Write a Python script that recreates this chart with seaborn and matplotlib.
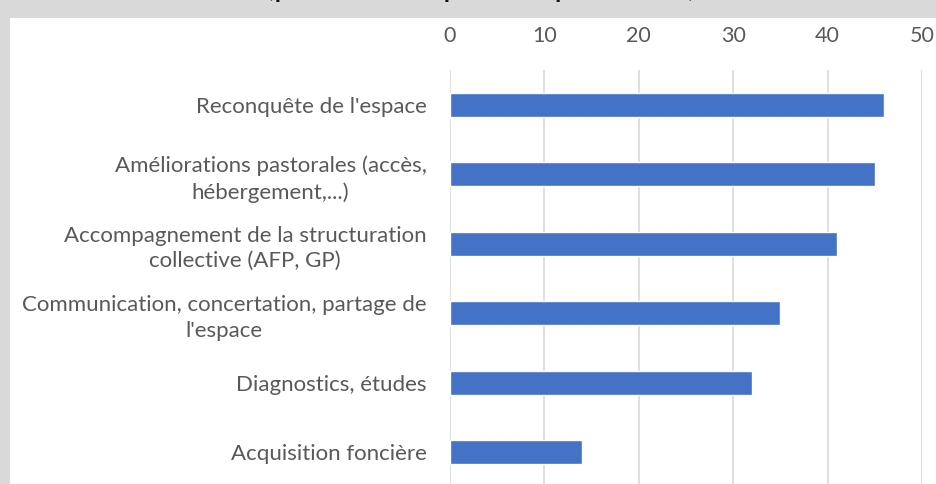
import numpy as np
import pandas as pd
import matplotlib.pyplot as plt
from matplotlib.patches import Rectangle
import seaborn as sns

## data
categories = ["Reconquête de l'espace",
              "Améliorations pastorales (accès,\nhébergement,...)",
              "Accompagnement de la structuration\ncollective (AFP, GP)",
              "Communication, concertation, partage de\nl'espace",
              "Diagnostics, études",
              "Acquisition foncière"]
values = [46, 45, 41, 35, 32, 14]
xticks = [0, 10, 20, 30, 40, 50]

df = pd.DataFrame({"action": categories, "n": values})

sns.set_theme(style="white")
plt.rcParams['font.family'] = ['Lato', 'DejaVu Sans']

W, H = 937, 484
fig = plt.figure(figsize=(W / 100, H / 100), dpi=100)
fig.patch.set_facecolor("#d9d9d9")
## white chart panel inside the grey frame
fig.patches.append(Rectangle((10 / W, 0), 1, 1 - 18 / H, transform=fig.transFigure,
                             facecolor="white", edgecolor="none", zorder=-5))

## title, cut off at the top of the image (only descenders show)
fig.text(481 / W, 1 + 4 / H, "(plusieurs réponses possibles)", ha="center",
         va="baseline", fontsize=24, color="#111111")

ax = fig.add_axes([450 / W, 1 - 487 / H, 472 / W, 417 / H])
ax.set_facecolor("none")
sns.barplot(data=df, x="n", y="action", orient="h", color="#4472C4",
            width=0.35, saturation=1, ax=ax, zorder=3)

ax.set_xlim(0, 50)
ax.set_ylim(len(categories) - 0.5, -0.5)
ax.set_xticks(xticks)
ax.set_yticks(range(len(categories)))
ax.set_yticklabels(categories, multialignment="center", linespacing=1.35)
ax.set_xlabel("")
ax.set_ylabel("")
ax.grid(axis="x", color="#d9d9d9", lw=1.2, zorder=0)
for s in ax.spines.values():
    s.set_visible(False)
ax.tick_params(axis="x", top=True, labeltop=True, bottom=False, labelbottom=False,
               length=0, pad=17, labelsize=15.5, labelcolor="#595959")
ax.tick_params(axis="y", length=0, pad=17, labelsize=16, labelcolor="#595959")

fig.savefig("out.png", dpi=100, facecolor=fig.get_facecolor())
